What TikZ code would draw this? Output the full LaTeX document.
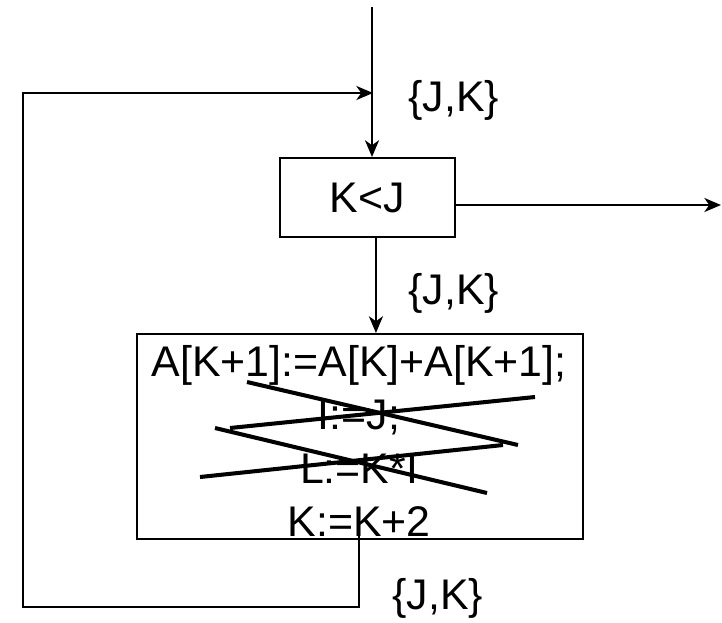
\documentclass[tikz,border=0pt]{standalone}
\usepackage{fontspec}
\setmainfont{Liberation Sans}
\usetikzlibrary{positioning}
\usetikzlibrary{calc}
\usetikzlibrary{arrows.meta}
\tikzset{>={Stealth[length=9.5pt,width=8pt,inset=2.8pt]}}
\tikzset{block/.style={rectangle, draw, line width=1.2pt, align=center, inner sep=0pt}}
\tikzset{flow/.style={draw, line width=1.2pt}}
\tikzset{jk/.style={inner sep=0pt, anchor=west}}
\tikzset{strike/.style={line width=2.3pt}}

\begin{document}
\begin{tikzpicture}[x=0.02cm, y=-0.02cm, font=\fontsize{24.4}{30.3}\selectfont]
    \useasboundingbox (0,0) rectangle (722,622);

    % test and loop body
    \node [block, minimum width=3.5cm, minimum height=1.58cm] (cond) at (367.5,197.5) {K<J};
    \node [block, minimum width=8.92cm, minimum height=4.1cm] (body) at (360,436.5) {};
    \node [align=center, inner sep=0pt] (stmts) at (359,441)
        {A[K+1]:=A[K]+A[K+1];\\ I:=J;\\ L:=K*I\\ K:=K+2};

    % struck-out statements
    \draw [strike] (247,382) -- (518,445);
    \draw [strike] (230,428) -- (535,397);
    \draw [strike] (215,428) -- (487,493);
    \draw [strike] (200,477) -- (503,445);

    \coordinate (entry) at (372,7);
    \coordinate (join) at (373,93);
    \coordinate (exit) at (721,205);
    \coordinate (back) at (359,522);
    \coordinate (corner) at (23,607);

    \draw [flow] (entry) -- (entry |- join);
    \draw [flow,->] (entry |- join) -- (entry |- cond.north);
    \draw [flow,->] (cond.east |- exit) -- (exit);
    \draw [flow,->] ([xshift=4.8pt]cond.south) -- ([xshift=4.8pt]cond.south |- body.north);
    \draw [flow,->] (back) |- (corner) |- (join);

    \node [jk] (jkin) at (408,100) {\{J,K\}};
    \node [jk] (jkbody) at (408,293) {\{J,K\}};
    \node [jk] (jkback) at (392,598) {\{J,K\}};

\end{tikzpicture}
\end{document}
